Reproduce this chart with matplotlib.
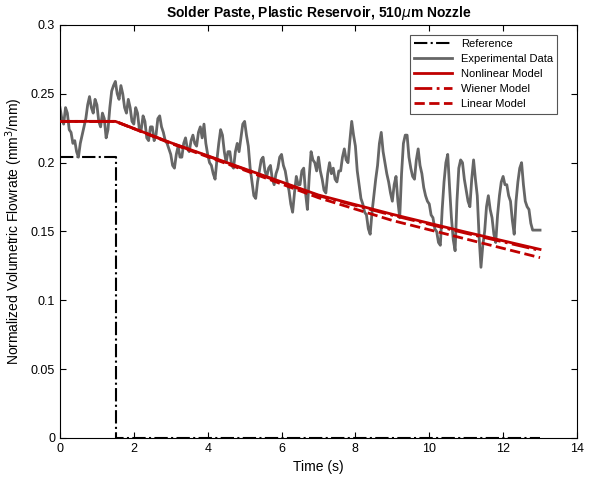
import numpy as np
import matplotlib.pyplot as plt

plt.rcParams['font.family'] = ['Liberation Sans', 'DejaVu Sans']

# reference input
ref_t = [0, 1.52, 1.52, 13]
ref_q = [0.204, 0.204, 0.0, 0.0]

# model knots
model_t = [0, 1.5, 3, 5, 7, 9, 11, 13]
nonlinear_q = [0.230, 0.230, 0.2145, 0.1955, 0.1765, 0.1625, 0.1495, 0.137]
wiener_q = [0.230, 0.230, 0.2143, 0.1952, 0.1760, 0.1618, 0.1487, 0.1362]
linear_q = [0.230, 0.230, 0.2140, 0.1945, 0.1745, 0.1580, 0.1445, 0.131]

# experimental data, sampled every 0.05 s (one row per second)
exp_t = np.round(np.arange(0, 13.001, 0.05), 2)
exp_q = [
    0.240, 0.232, 0.228, 0.240, 0.236, 0.224, 0.222, 0.214, 0.216, 0.208,
    0.204, 0.214, 0.220, 0.226, 0.232, 0.242, 0.248, 0.240, 0.236, 0.246,
    0.242, 0.230, 0.226, 0.236, 0.232, 0.218, 0.224, 0.240, 0.252, 0.256,
    0.259, 0.250, 0.246, 0.256, 0.250, 0.240, 0.236, 0.246, 0.240, 0.230,
    0.228, 0.240, 0.236, 0.224, 0.224, 0.234, 0.230, 0.218, 0.216, 0.226,
    0.226, 0.216, 0.220, 0.232, 0.234, 0.226, 0.222, 0.216, 0.214, 0.210,
    0.206, 0.198, 0.196, 0.206, 0.212, 0.204, 0.204, 0.214, 0.218, 0.210,
    0.208, 0.216, 0.220, 0.214, 0.212, 0.222, 0.226, 0.218, 0.228, 0.214,
    0.206, 0.200, 0.198, 0.192, 0.188, 0.202, 0.214, 0.224, 0.220, 0.208,
    0.200, 0.208, 0.208, 0.198, 0.196, 0.208, 0.214, 0.208, 0.218, 0.228,
    0.230, 0.220, 0.212, 0.196, 0.186, 0.176, 0.174, 0.186, 0.194, 0.202,
    0.204, 0.194, 0.190, 0.196, 0.198, 0.188, 0.184, 0.192, 0.196, 0.204,
    0.206, 0.198, 0.194, 0.186, 0.180, 0.170, 0.164, 0.178, 0.190, 0.184,
    0.184, 0.194, 0.196, 0.178, 0.166, 0.190, 0.208, 0.202, 0.200, 0.194,
    0.204, 0.194, 0.188, 0.180, 0.178, 0.192, 0.200, 0.192, 0.196, 0.188,
    0.186, 0.194, 0.194, 0.204, 0.210, 0.202, 0.200, 0.216, 0.230, 0.220,
    0.212, 0.194, 0.184, 0.174, 0.170, 0.164, 0.162, 0.152, 0.148, 0.164,
    0.176, 0.188, 0.198, 0.214, 0.222, 0.208, 0.200, 0.192, 0.186, 0.178,
    0.172, 0.184, 0.190, 0.172, 0.160, 0.192, 0.214, 0.220, 0.220, 0.204,
    0.196, 0.190, 0.188, 0.202, 0.210, 0.198, 0.192, 0.182, 0.176, 0.172,
    0.170, 0.162, 0.160, 0.152, 0.150, 0.142, 0.140, 0.166, 0.186, 0.200,
    0.206, 0.182, 0.160, 0.144, 0.136, 0.172, 0.196, 0.202, 0.200, 0.188,
    0.180, 0.172, 0.168, 0.188, 0.202, 0.188, 0.176, 0.146, 0.124, 0.140,
    0.150, 0.168, 0.176, 0.166, 0.160, 0.148, 0.142, 0.162, 0.176, 0.186,
    0.190, 0.184, 0.184, 0.176, 0.172, 0.158, 0.148, 0.172, 0.186, 0.196,
    0.200, 0.184, 0.172, 0.168, 0.166, 0.156, 0.151, 0.151, 0.151, 0.151,
    0.151,
]

red = '#c00000'

fig = plt.figure(figsize=(5.95, 4.78), dpi=100)
ax = fig.add_axes([0.1008, 0.0837, 0.8689, 0.864])

ax.plot(ref_t, ref_q, color='black', ls='-.', lw=1.5, label='Reference')
ax.plot(exp_t, exp_q, color='#666666', lw=2, label='Experimental Data')
ax.plot(model_t, wiener_q, color=red, ls='-.', lw=2, label='Wiener Model', zorder=2)
ax.plot(model_t, linear_q, color=red, ls='--', lw=2, label='Linear Model', zorder=2)
ax.plot(model_t, nonlinear_q, color=red, lw=2, label='Nonlinear Model', zorder=3)

ax.set_xlim(0, 14)
ax.set_ylim(0, 0.3)
ax.set_xticks(range(0, 15, 2))
ax.set_yticks([0, 0.05, 0.1, 0.15, 0.2, 0.25, 0.3])
ax.set_yticklabels(['0', '0.05', '0.1', '0.15', '0.2', '0.25', '0.3'])
ax.tick_params(direction='in', top=True, right=True, labelsize=9, length=4)

ax.set_xlabel('Time (s)', fontsize=10)
ax.set_ylabel('Normalized Volumetric Flowrate (mm$^3$/mm)', fontsize=10)
ax.set_title('Solder Paste, Plastic Reservoir, 510$\\mu$m Nozzle', fontsize=10, fontweight='bold')

h, l = ax.get_legend_handles_labels()
order = ['Reference', 'Experimental Data', 'Nonlinear Model', 'Wiener Model', 'Linear Model']
hd = dict(zip(l, h))
leg = ax.legend([hd[k] for k in order], order, loc='upper right', fontsize=8,
                fancybox=False, framealpha=1, edgecolor='#555555',
                handlelength=3.4, borderpad=0.4, labelspacing=0.45,
                borderaxespad=0, bbox_to_anchor=(0.962, 0.976))
leg.get_frame().set_linewidth(0.8)

fig.savefig('out.png', dpi=100)
